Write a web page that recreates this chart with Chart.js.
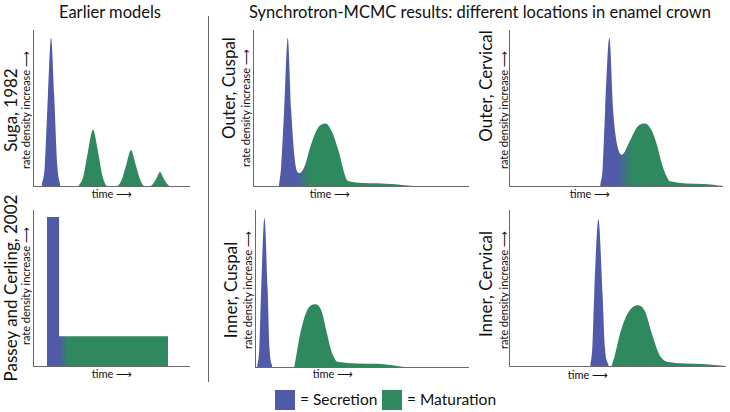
<!DOCTYPE html>
<html>
<head>
<meta charset="utf-8">
<script src="https://cdn.jsdelivr.net/npm/chart.js@4.4.0/dist/chart.umd.min.js"></script>
<style>
  body { margin: 0; background: #fff; }
  #page { position: relative; width: 730px; height: 412px; overflow: hidden; font-family: Lato, "Open Sans", sans-serif; color: #111; }
  canvas { position: absolute; }
  .lbl { position: absolute; transform: translate(-50%, -50%); white-space: nowrap; line-height: 1; }
  .rot { transform: translate(-50%, -50%) rotate(-90deg); }
  .left { transform: translate(0, -50%); }
  .head { font-size: 16.5px; }
  .name { font-size: 17px; }
  .small { font-size: 11px; }
  .key { font-size: 15.5px; }
  .swatch { position: absolute; width: 20px; height: 20px; }
  #divider { position: absolute; left: 208px; top: 16px; width: 1px; height: 366px; background: #666; }
</style>
</head>
<body>
<div id="page">
  <div class="lbl head" style="left:110px; top:12px">Earlier models</div>
  <div class="lbl head" style="left:480px; top:12px">Synchrotron-MCMC results: different locations in enamel crown</div>
  <div id="divider"></div>

  <div class="lbl rot name" style="left:10px; top:110px">Suga, 1982</div>
  <div class="lbl rot small" style="left:25px; top:110px">rate density increase ⟶</div>
  <div class="lbl small" style="left:112px; top:193px">time ⟶</div>

  <div class="lbl rot name" style="left:10px; top:288px">Passey and Cerling, 2002</div>
  <div class="lbl rot small" style="left:25px; top:286px">rate density increase ⟶</div>
  <div class="lbl small" style="left:112px; top:373px">time ⟶</div>

  <div class="lbl rot name" style="left:228px; top:88px">Outer, Cuspal</div>
  <div class="lbl rot small" style="left:245px; top:108px">rate density increase ⟶</div>
  <div class="lbl small" style="left:330px; top:193px">time ⟶</div>

  <div class="lbl rot name" style="left:485px; top:86px">Outer, Cervical</div>
  <div class="lbl rot small" style="left:503px; top:110px">rate density increase ⟶</div>
  <div class="lbl small" style="left:590px; top:193px">time ⟶</div>

  <div class="lbl rot name" style="left:230px; top:290px">Inner, Cuspal</div>
  <div class="lbl rot small" style="left:247px; top:290px">rate density increase ⟶</div>
  <div class="lbl small" style="left:333px; top:373px">time ⟶</div>

  <div class="lbl rot name" style="left:485px; top:284px">Inner, Cervical</div>
  <div class="lbl rot small" style="left:503px; top:290px">rate density increase ⟶</div>
  <div class="lbl small" style="left:588px; top:374px">time ⟶</div>

  <div class="swatch" style="left:275px; top:390px; background:#505aa8"></div>
  <div class="lbl left key" style="left:300px; top:400px">= Secretion</div>
  <div class="swatch" style="left:382px; top:390px; background:#2e8a5e"></div>
  <div class="lbl left key" style="left:407px; top:400px">= Maturation</div>

  <canvas id="suga"></canvas>
  <canvas id="passey"></canvas>
  <canvas id="outerCuspal"></canvas>
  <canvas id="outerCervical"></canvas>
  <canvas id="innerCuspal"></canvas>
  <canvas id="innerCervical"></canvas>
</div>

<script>
const BLUE = "#505aa8";
const GREEN = "#2e8a5e";

// Suga, 1982 (time 0-100 along axis, rate 0-1)
const sugaSecTime = [5.5, 7.5, 9.5, 11.5, 13.5, 15.5, 17.5];
const sugaSecRate = [0, 0.13, 0.58, 0.95, 0.58, 0.13, 0];
const sugaMatTime = [29, 32, 35, 38.2, 41.4, 44.4, 47.5, 53.5, 56.5, 59.5, 62.4, 65.3, 68.3, 71, 74.5, 76.8, 78.9, 80.9, 82.9, 85, 87];
const sugaMatRate = [0, 0.06, 0.22, 0.36, 0.22, 0.06, 0, 0, 0.04, 0.14, 0.23, 0.14, 0.04, 0, 0, 0.02, 0.055, 0.09, 0.055, 0.02, 0];

// Passey and Cerling, 2002
const passeyTime = [8.9, 8.9, 16.6, 16.6, 86, 86];
const passeyRate = [0, 0.955, 0.955, 0.19, 0.19, 0];

// Outer, Cuspal
const outerCuspalTime = [12.0, 13.0, 14.4, 16.1, 17.7, 19.5, 21.5, 24, 26.5, 30, 33.5, 36.5, 39.5, 42.8, 44.3, 57.5, 74.4];
const outerCuspalRate = [0, 0.12, 0.48, 0.95, 0.48, 0.15, 0.083, 0.13, 0.25, 0.37, 0.40, 0.35, 0.23, 0.06, 0.03, 0.017, 0];

// Outer, Cervical
const outerCervicalTime = [42.6, 43.8, 44.9, 46.9, 48.7, 50.3, 52.7, 56.5, 60, 63.6, 66.5, 69.0, 71.5, 73.7, 75.2, 90.8, 100];
const outerCervicalRate = [0, 0.12, 0.48, 0.95, 0.48, 0.28, 0.20, 0.29, 0.38, 0.40, 0.36, 0.27, 0.14, 0.06, 0.03, 0.013, 0];

// Inner, Cuspal
const innerCuspalSecTime = [1.0, 2.0, 2.9, 4.4, 5.9, 6.8, 8.2];
const innerCuspalSecRate = [0, 0.12, 0.5, 0.95, 0.5, 0.12, 0];
const innerCuspalMatTime = [18.3, 19.2, 21.1, 24.3, 28.2, 31.0, 33.7, 35.7, 37.6, 38.4, 57.1, 69.6];
const innerCuspalMatRate = [0, 0.066, 0.21, 0.36, 0.40, 0.36, 0.21, 0.1, 0.045, 0.034, 0.02, 0];

// Inner, Cervical
const innerCervicalSecTime = [37.4, 38.4, 39.3, 41.2, 43.1, 44.2, 46.0];
const innerCervicalSecRate = [0, 0.12, 0.47, 0.94, 0.47, 0.12, 0];
const innerCervicalMatTime = [47.3, 48.8, 51.2, 54.8, 59.3, 62.7, 65.8, 69.0, 71.1, 72.7, 89.5, 100];
const innerCervicalMatRate = [0, 0.07, 0.21, 0.34, 0.39, 0.35, 0.21, 0.08, 0.04, 0.028, 0.013, 0];

function pairs(xs, ys) {
  return xs.map((x, i) => ({ x: x, y: ys[i] }));
}

// horizontal blue->green fill, blend between two time values
function blend(from, to) {
  return (context) => {
    const chart = context.chart;
    if (!chart.chartArea) return BLUE;
    const x = chart.scales.x;
    const g = chart.ctx.createLinearGradient(x.getPixelForValue(from), 0, x.getPixelForValue(to), 0);
    g.addColorStop(0, BLUE);
    g.addColorStop(1, GREEN);
    return g;
  };
}

function series(xs, ys, color, smooth) {
  return {
    data: pairs(xs, ys),
    backgroundColor: color,
    borderColor: "rgba(0,0,0,0)",
    borderWidth: 0,
    pointRadius: 0,
    fill: "origin",
    tension: 0,
    cubicInterpolationMode: smooth ? "monotone" : "default",
  };
}

function makePanel(id, box, datasets) {
  const canvas = document.getElementById(id);
  // box = [axisLeft, axisTop, axisRight, axisBottom]
  canvas.width = box[2] - box[0] + 2;
  canvas.height = box[3] - box[1] + 2;
  canvas.style.left = box[0] - 2 + "px";
  canvas.style.top = box[1] + "px";
  const axis = {
    display: true,
    grid: { display: false, drawTicks: false },
    ticks: { display: false },
    border: { display: true, color: "#6a6a6a", width: 1 },
  };
  return new Chart(canvas.getContext("2d"), {
    type: "line",
    data: { datasets: datasets },
    options: {
      responsive: false,
      animation: false,
      layout: { padding: { left: 2, bottom: 2, top: 0, right: 0 } },
      plugins: { legend: { display: false }, tooltip: { enabled: false } },
      scales: {
        x: Object.assign({ type: "linear", min: 0, max: 100 }, axis),
        y: Object.assign({ min: 0, max: 1 }, axis),
      },
    },
  });
}

makePanel("suga", [33, 30, 190, 186], [
  series(sugaSecTime, sugaSecRate, BLUE, true),
  series(sugaMatTime, sugaMatRate, GREEN, true),
]);

makePanel("passey", [33, 210, 190, 366], [
  series(passeyTime, passeyRate, blend(16.6, 22.5), false),
]);

makePanel("outerCuspal", [253, 30, 469, 186], [
  series(outerCuspalTime, outerCuspalRate, blend(19.5, 26.5), true),
]);

makePanel("outerCervical", [509, 30, 723, 186], [
  series(outerCervicalTime, outerCervicalRate, blend(50.5, 57.9), true),
]);

makePanel("innerCuspal", [255, 210, 469, 367], [
  series(innerCuspalSecTime, innerCuspalSecRate, BLUE, true),
  series(innerCuspalMatTime, innerCuspalMatRate, GREEN, true),
]);

makePanel("innerCervical", [509, 210, 726, 366], [
  series(innerCervicalSecTime, innerCervicalSecRate, BLUE, true),
  series(innerCervicalMatTime, innerCervicalMatRate, GREEN, true),
]);
</script>
</body>
</html>
